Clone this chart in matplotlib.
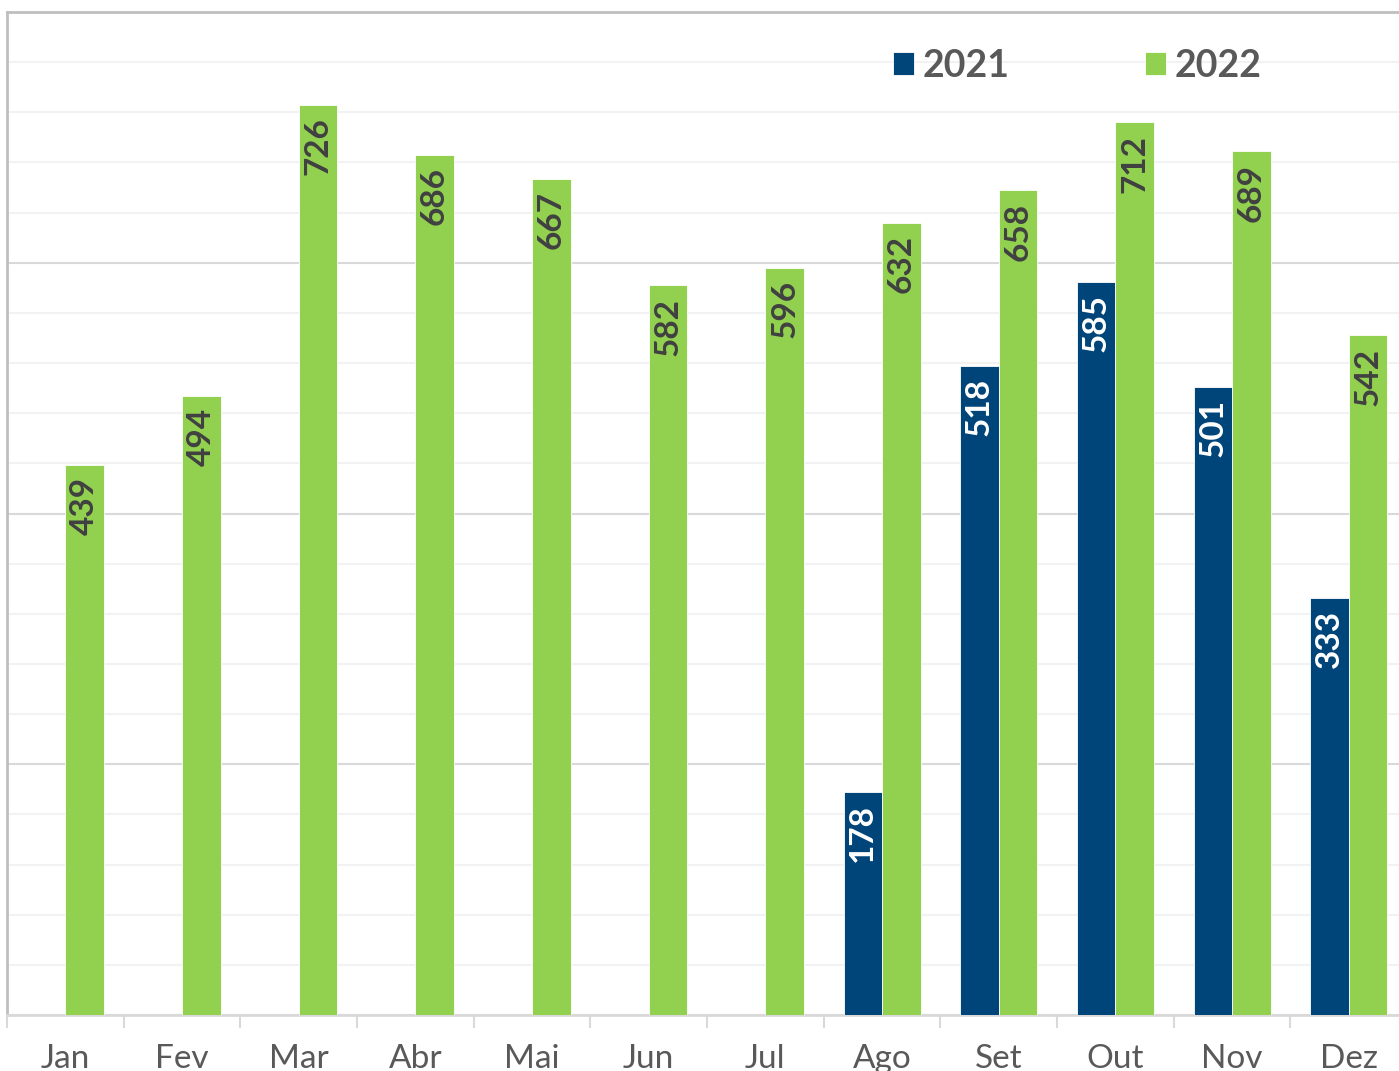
import numpy as np
import matplotlib

matplotlib.use("Agg")
import matplotlib.pyplot as plt
from matplotlib.ticker import MultipleLocator, FixedLocator

plt.rcParams["font.family"] = ["Lato", "DejaVu Sans"]

MONTHS = ["Jan", "Fev", "Mar", "Abr", "Mai", "Jun", "Jul", "Ago", "Set", "Out", "Nov", "Dez"]
VALUES_2021 = [np.nan] * 7 + [178, 518, 585, 501, 333]
VALUES_2022 = [439, 494, 726, 686, 667, 582, 596, 632, 658, 712, 689, 542]

BLUE = "#00457A"
GREEN = "#92D050"
TEXT = "#595959"

W, H = 1399, 1071
fig = plt.figure(figsize=(W / 100, H / 100), dpi=100)
# plot area runs slightly past the right edge of the picture
ax = fig.add_axes([7 / W, 56 / H, 1400 / W, 1003 / H])

x = np.arange(len(MONTHS))
bw = 0.33
b21 = ax.bar(x - bw / 2, VALUES_2021, bw, color=BLUE, edgecolor="white",
             linewidth=0.6, label="2021", zorder=3)
b22 = ax.bar(x + bw / 2, VALUES_2022, bw, color=GREEN, edgecolor="white",
             linewidth=0.6, label="2022", zorder=3)

for bars, vals, col in ((b21, VALUES_2021, "white"), (b22, VALUES_2022, "#404040")):
    for rect, v in zip(bars, vals):
        if np.isnan(v):
            continue
        ax.annotate(f"{v:.0f}", (rect.get_x() + rect.get_width() / 2, v),
                    xytext=(0, -9), textcoords="offset points",
                    rotation=90, ha="center", va="top",
                    fontsize=24, fontweight="bold", color=col, zorder=4)

ax.set_xlim(-0.5, len(MONTHS) - 0.5)
ax.set_ylim(0, 800)

# gridlines: light every 40, darker every 200
ax.yaxis.set_major_locator(MultipleLocator(200))
ax.yaxis.set_minor_locator(MultipleLocator(40))
ax.yaxis.grid(True, which="minor", color="#f2f2f2", linewidth=1.5, zorder=0)
ax.yaxis.grid(True, which="major", color="#d9d9d9", linewidth=1.5, zorder=1)
ax.tick_params(axis="y", which="both", left=False, labelleft=False)

ax.set_xticks(x, MONTHS)
ax.xaxis.set_minor_locator(FixedLocator(np.arange(-0.5, len(MONTHS), 1)))
ax.tick_params(axis="x", which="major", length=0, pad=21, labelsize=24, labelcolor=TEXT)
ax.tick_params(axis="x", which="minor", length=9, width=1.5, color="#d9d9d9", direction="out")

for side in ("left", "top", "right"):
    ax.spines[side].set_color("#bfbfbf")
    ax.spines[side].set_linewidth(2)
ax.spines["bottom"].set_color("#d9d9d9")
ax.spines["bottom"].set_linewidth(2)

leg = ax.legend(loc="center left", bbox_to_anchor=(886 / 1400, 1 - 54 / 1003),
                ncol=2, frameon=False, fontsize=27, handlelength=0.55,
                handleheight=0.55, handletextpad=0.25, columnspacing=3.6,
                borderaxespad=0, borderpad=0)
for t in leg.get_texts():
    t.set_color(TEXT)
    t.set_fontweight("bold")

fig.savefig("out.png", dpi=100)
